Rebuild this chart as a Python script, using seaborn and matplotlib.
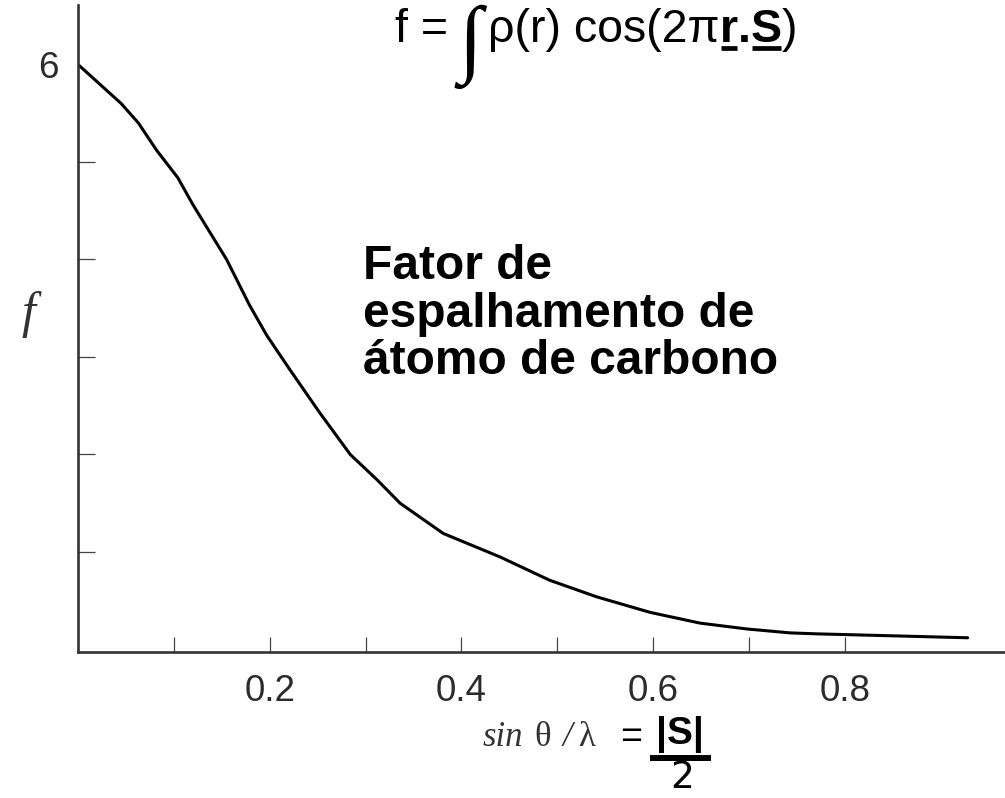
import matplotlib
matplotlib.use("Agg")
import matplotlib.pyplot as plt
from matplotlib.lines import Line2D
import numpy as np
import pandas as pd
import seaborn as sns

# ---- data ----
s_values = [0.000, 0.045, 0.063, 0.082, 0.104, 0.120, 0.155, 0.179, 0.197,
            0.221, 0.252, 0.284, 0.312, 0.336, 0.381, 0.440, 0.492, 0.541,
            0.597, 0.649, 0.698, 0.743, 0.771, 0.928]
f_values = [6.00, 5.60, 5.40, 5.12, 4.84, 4.56, 4.00, 3.53, 3.22,
            2.87, 2.43, 2.00, 1.74, 1.50, 1.19, 0.95, 0.71, 0.54,
            0.38, 0.27, 0.21, 0.17, 0.16, 0.12]
x_major_ticks = [0.2, 0.4, 0.6, 0.8]
x_major_labels = ["0.2", "0.4", "0.6", "0.8"]
x_minor_ticks = [0.1, 0.3, 0.5, 0.7]
y_major_ticks = [6]
y_major_labels = ["6"]
y_minor_ticks = [1, 2, 3, 4, 5]

sns.set_style("white")
plt.rcParams["font.family"] = ["Liberation Sans", "DejaVu Sans"]

W, H = 1005, 798
fig = plt.figure(figsize=(W / 100, H / 100), dpi=100)
fig.patch.set_facecolor("white")

def fx(px):
    return px / W

def fy(py):
    return 1 - py / H

ax = fig.add_axes([fx(78), fy(652), 1 - fx(78), (652 - 5) / H])
df = pd.DataFrame({"s": s_values, "f": f_values})
sns.lineplot(data=df, x="s", y="f", color="black", linewidth=2.2, ax=ax)

ax.set_xlim(0, 0.967)
ax.set_ylim(-0.026, 6.61)
ax.set_xlabel("")
ax.set_ylabel("")

for side in ["top", "right"]:
    ax.spines[side].set_visible(False)
for side in ["left", "bottom"]:
    ax.spines[side].set_color("#333333")
    ax.spines[side].set_linewidth(1.9)

gray = "#2b2b2b"
ax.set_xticks(x_major_ticks)
ax.set_xticklabels(x_major_labels)
ax.set_xticks(x_minor_ticks, minor=True)
ax.set_yticks(y_major_ticks)
ax.set_yticklabels(y_major_labels)
ax.set_yticks(y_minor_ticks, minor=True)

ax.tick_params(axis="x", which="both", bottom=True, direction="in",
               length=11, width=0.9, color="#444444")
ax.tick_params(axis="x", which="major", pad=16, labelsize=26.5, labelcolor=gray)
ax.tick_params(axis="y", which="both", left=True)
ax.tick_params(axis="y", which="minor", direction="in", length=12,
               width=0.9, color="#444444")
ax.tick_params(axis="y", which="major", length=0, pad=14, labelsize=26.5,
               labelcolor=gray)

# y label "f"
fig.text(fx(28), fy(315), "f", fontsize=36, family=["Liberation Serif"],
         style="italic", color="#333333", ha="center", va="center")

# formula at top
fig.text(fx(395), fy(42), "f =", fontsize=33.5, va="baseline", ha="left",
         color="black")
fig.text(fx(470), fy(47), "\u222b", fontsize=62, family=["Liberation Serif"],
         va="center", ha="center", color="black")

renderer = fig.canvas.get_renderer()
base_y = fy(42)
pieces = [("\u03c1(r) cos(2\u03c0", "normal", False),
          ("r", "bold", True),
          (".", "bold", False),
          ("S", "bold", True),
          (")", "normal", False)]
cur_x = fx(488)
for txt, weight, underline in pieces:
    t = fig.text(cur_x, base_y, txt, fontsize=33.5, fontweight=weight,
                 va="baseline", ha="left", color="black")
    bb = t.get_window_extent(renderer=renderer)
    x0 = bb.x0 / fig.bbox.width
    x1 = bb.x1 / fig.bbox.width
    if underline:
        fig.add_artist(Line2D([x0 + 0.001, x1 - 0.001], [fy(48), fy(48)],
                              transform=fig.transFigure, color="black",
                              linewidth=3.4, solid_capstyle="butt"))
    cur_x = x1

# annotation in the plot (baseline of the last line)
fig.text(fx(363), fy(374),
         "Fator de\nespalhamento de\n\u00e1tomo de carbono",
         fontsize=34.5, fontweight="bold",
         va="baseline", ha="left", linespacing=1.07, color="black")

# x label
for txt, px, sty in [("sin", 483, "italic"), ("\u03b8", 534, "normal"),
                     ("/", 563, "italic"), ("\u03bb", 578, "normal")]:
    fig.text(fx(px), fy(746), txt, fontsize=25,
             family=["Liberation Serif"], style=sty, color="#333333",
             va="baseline", ha="left")
fig.text(fx(631), fy(748), "=", fontsize=27, va="baseline", ha="center",
         color="black")
fig.text(fx(680), fy(744), "|S|", fontsize=28, fontweight="bold",
         va="baseline", ha="center", color="black")
fig.add_artist(Line2D([fx(650), fx(711)], [fy(758), fy(758)],
                      transform=fig.transFigure, color="black",
                      linewidth=4.3, solid_capstyle="butt"))
fig.text(fx(682), fy(788), "2", fontsize=27, family=["DejaVu Sans"],
         va="baseline", ha="center", color="black")

fig.savefig("out.png", dpi=100, facecolor="white")
